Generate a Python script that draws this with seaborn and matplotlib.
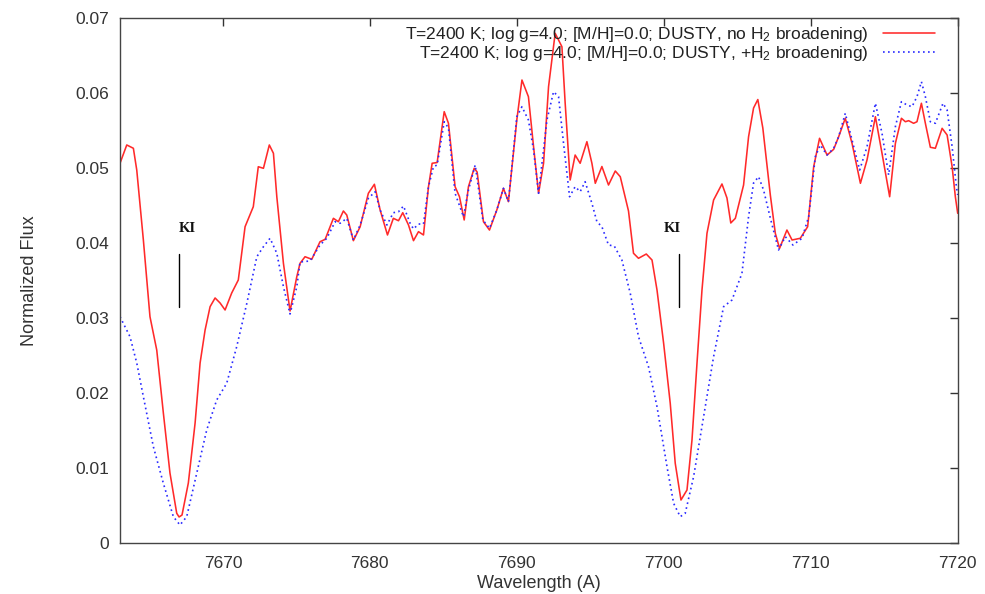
import matplotlib
matplotlib.use("Agg")
import matplotlib.pyplot as plt
import seaborn as sns
import numpy as np
import pandas as pd

# ---------------- data ----------------
wl_red = [7663.00, 7663.46, 7663.91, 7664.14, 7664.59, 7665.04, 7665.50, 7665.95, 7666.40, 7666.86,
          7667.02, 7667.22, 7667.65, 7668.11, 7668.45, 7668.79, 7669.13, 7669.47, 7669.81, 7670.15,
          7670.60, 7671.05, 7671.51, 7672.07, 7672.41, 7672.76, 7673.16, 7673.44, 7673.67, 7674.12,
          7674.57, 7675.03, 7675.25, 7675.59, 7676.05, 7676.61, 7676.96, 7677.52, 7677.86, 7678.20,
          7678.43, 7678.88, 7679.34, 7679.90, 7680.31, 7680.70, 7681.20, 7681.60, 7681.95, 7682.24,
          7682.63, 7682.97, 7683.31, 7683.65, 7683.99, 7684.24, 7684.58, 7685.06, 7685.35, 7685.80,
          7686.10, 7686.42, 7686.71, 7687.10, 7687.30, 7687.73, 7688.14, 7688.64, 7689.09, 7689.43,
          7690.00, 7690.35, 7690.79, 7691.14, 7691.48, 7691.82, 7692.16, 7692.61, 7693.07, 7693.29,
          7693.63, 7693.97, 7694.31, 7694.77, 7695.11, 7695.34, 7695.79, 7696.24, 7696.70, 7697.04,
          7697.38, 7697.60, 7697.94, 7698.28, 7698.81, 7699.20, 7699.54, 7699.99, 7700.44, 7700.78,
          7701.17, 7701.58, 7701.92, 7702.26, 7702.60, 7702.94, 7703.39, 7703.96, 7704.30, 7704.56,
          7704.87, 7705.43, 7705.77, 7706.11, 7706.40, 7706.74, 7707.25, 7707.59, 7707.88, 7708.38,
          7708.73, 7709.29, 7709.79, 7710.20, 7710.60, 7711.11, 7711.56, 7711.90, 7712.35, 7712.81,
          7713.38, 7713.83, 7714.40, 7714.85, 7715.37, 7715.76, 7716.17, 7716.44, 7716.66, 7717.00,
          7717.23, 7717.53, 7717.80, 7718.14, 7718.48, 7718.94, 7719.28, 7719.62, 7719.84, 7720.00]
flux_red = [0.05067, 0.05311, 0.05267, 0.04977, 0.04044, 0.03021, 0.02577, 0.01737, 0.00937, 0.00400,
            0.00351, 0.00377, 0.00804, 0.01604, 0.02404, 0.02844, 0.03155, 0.03271, 0.03204, 0.03111,
            0.03337, 0.03511, 0.04221, 0.04488, 0.05021, 0.05000, 0.05311, 0.05200, 0.04621, 0.03733,
            0.03097, 0.03555, 0.03733, 0.03821, 0.03787, 0.04021, 0.04053, 0.04333, 0.04288, 0.04431,
            0.04377, 0.04035, 0.04221, 0.04667, 0.04787, 0.04444, 0.04111, 0.04333, 0.04301, 0.04408,
            0.04244, 0.04035, 0.04155, 0.04111, 0.04755, 0.05067, 0.05077, 0.05755, 0.05600, 0.04755,
            0.04621, 0.04311, 0.04755, 0.05000, 0.04951, 0.04288, 0.04177, 0.04444, 0.04733, 0.04555,
            0.05644, 0.06177, 0.05955, 0.05288, 0.04667, 0.05067, 0.06088, 0.06800, 0.06621, 0.05871,
            0.04844, 0.05177, 0.05067, 0.05355, 0.05067, 0.04800, 0.05024, 0.04777, 0.04964, 0.04888,
            0.04611, 0.04431, 0.03867, 0.03800, 0.03857, 0.03777, 0.03377, 0.02667, 0.01867, 0.01067,
            0.00577, 0.00711, 0.01377, 0.02400, 0.03377, 0.04133, 0.04577, 0.04791, 0.04604, 0.04271,
            0.04333, 0.04777, 0.05421, 0.05804, 0.05917, 0.05537, 0.04644, 0.04133, 0.03933, 0.04177,
            0.04044, 0.04067, 0.04221, 0.05021, 0.05400, 0.05177, 0.05253, 0.05421, 0.05667, 0.05333,
            0.04800, 0.05111, 0.05688, 0.05200, 0.04621, 0.05333, 0.05667, 0.05621, 0.05635, 0.05600,
            0.05621, 0.05867, 0.05600, 0.05280, 0.05267, 0.05533, 0.05444, 0.05021, 0.04621, 0.04400]

wl_blue = [7663.00, 7663.68, 7664.14, 7664.59, 7665.27, 7665.95, 7666.63, 7667.08, 7667.54, 7668.22,
           7668.90, 7669.58, 7670.26, 7670.94, 7671.63, 7672.31, 7672.76, 7673.21, 7673.67, 7674.12,
           7674.57, 7675.03, 7675.25, 7675.93, 7676.61, 7677.07, 7677.64, 7677.98, 7678.43, 7678.88,
           7679.34, 7679.90, 7680.36, 7680.70, 7681.16, 7681.60, 7681.95, 7682.29, 7682.74, 7682.97,
           7683.31, 7683.65, 7683.99, 7684.33, 7684.58, 7685.06, 7685.35, 7685.80, 7686.37, 7686.71,
           7687.17, 7687.69, 7688.14, 7688.64, 7689.09, 7689.43, 7690.00, 7690.35, 7690.79, 7691.14,
           7691.48, 7692.05, 7692.50, 7692.84, 7693.18, 7693.59, 7693.97, 7694.31, 7694.65, 7695.11,
           7695.45, 7695.79, 7696.24, 7696.63, 7697.15, 7697.72, 7698.28, 7698.96, 7699.54, 7700.22,
           7700.67, 7701.12, 7701.46, 7702.03, 7702.71, 7703.39, 7704.07, 7704.64, 7705.32, 7705.77,
           7706.11, 7706.45, 7706.79, 7707.25, 7707.81, 7708.27, 7708.79, 7709.41, 7709.86, 7710.31,
           7710.65, 7711.11, 7711.56, 7711.90, 7712.35, 7712.81, 7713.33, 7713.83, 7714.40, 7714.85,
           7715.30, 7715.76, 7716.17, 7716.55, 7716.89, 7717.23, 7717.53, 7717.80, 7718.14, 7718.48,
           7719.00, 7719.28, 7719.62, 7719.91, 7720.00]
flux_blue = [0.03021, 0.02755, 0.02404, 0.01955, 0.01288, 0.00800, 0.00355, 0.00244, 0.00355, 0.00933,
             0.01511, 0.01911, 0.02133, 0.02621, 0.03200, 0.03821, 0.03955, 0.04067, 0.03867, 0.03421,
             0.03057, 0.03421, 0.03751, 0.03764, 0.03977, 0.04067, 0.04288, 0.04267, 0.04333, 0.04044,
             0.04244, 0.04600, 0.04688, 0.04444, 0.04244, 0.04408, 0.04421, 0.04497, 0.04267, 0.04191,
             0.04257, 0.04257, 0.04755, 0.05021, 0.05044, 0.05621, 0.05537, 0.04667, 0.04355, 0.04711,
             0.05044, 0.04311, 0.04200, 0.04444, 0.04733, 0.04555, 0.05688, 0.05821, 0.05644, 0.05244,
             0.04667, 0.05644, 0.06021, 0.05955, 0.05333, 0.04621, 0.04755, 0.04688, 0.04821, 0.04533,
             0.04288, 0.04221, 0.03977, 0.03964, 0.03777, 0.03333, 0.02755, 0.02355, 0.01821, 0.01021,
             0.00533, 0.00355, 0.00400, 0.00888, 0.01688, 0.02488, 0.03155, 0.03244, 0.03600, 0.04355,
             0.04804, 0.04888, 0.04711, 0.04337, 0.03911, 0.04088, 0.03977, 0.04067, 0.04355, 0.05155,
             0.05311, 0.05177, 0.05267, 0.05421, 0.05733, 0.05377, 0.04977, 0.05288, 0.05867, 0.05467,
             0.04911, 0.05555, 0.05888, 0.05844, 0.05821, 0.05955, 0.06155, 0.05955, 0.05621, 0.05600,
             0.05867, 0.05777, 0.05288, 0.04755, 0.04644]

label_red = "T=2400 K; log g=4.0; [M/H]=0.0; DUSTY, no H$_2$ broadening)"
label_blue = "T=2400 K; log g=4.0; [M/H]=0.0; DUSTY, +H$_2$ broadening)"

x_ticks = [7670, 7680, 7690, 7700, 7710, 7720]
y_ticks = [0, 0.01, 0.02, 0.03, 0.04, 0.05, 0.06, 0.07]
y_ticklabels = ["0", "0.01", "0.02", "0.03", "0.04", "0.05", "0.06", "0.07"]

ki_lines = [7667.02, 7701.05]
ki_text_x = [7667.6, 7700.6]

# ---------------- style ----------------
sns.set_theme(style="white")
plt.rcParams["font.family"] = ["Liberation Sans", "DejaVu Sans"]
plt.rcParams["mathtext.fontset"] = "custom"
plt.rcParams["mathtext.rm"] = "Liberation Sans"
plt.rcParams["mathtext.it"] = "Liberation Sans"
plt.rcParams["mathtext.default"] = "regular"

fig = plt.figure(figsize=(9.85, 5.94), dpi=100)
ax = fig.add_axes([120 / 985, 1 - 543.3 / 594, (957.7 - 120) / 985, (543.3 - 18.3) / 594])

df_red = pd.DataFrame({"wl": wl_red, "flux": flux_red})
df_blue = pd.DataFrame({"wl": wl_blue, "flux": flux_blue})

sns.lineplot(data=df_red, x="wl", y="flux", ax=ax, color="#ff2a2a", lw=1.15,
             estimator=None, sort=False, label=label_red, solid_joinstyle="round")
sns.lineplot(data=df_blue, x="wl", y="flux", ax=ax, color="#2a2aff", lw=1.2,
             linestyle=(0, (1, 2)), estimator=None, sort=False, label=label_blue)

ax.set_xlim(7663, 7720)
ax.set_ylim(0, 0.07)
ax.set_xticks(x_ticks)
ax.set_xticklabels([str(t) for t in x_ticks])
ax.set_yticks(y_ticks)
ax.set_yticklabels(y_ticklabels)
ax.tick_params(direction="in", length=6, width=1, top=True, right=True,
               labelsize=12.5, colors="#333333", pad=8)
ax.tick_params(axis="x", pad=9)
for s in ax.spines.values():
    s.set_color("#444444")
    s.set_linewidth(1.0)
ax.grid(False)

# K I markers
for xl in ki_lines:
    ax.plot([xl, xl], [0.0315, 0.0386], color="black", lw=1.0)
for xt in ki_text_x:
    ax.text(xt, 0.0420, "KI", family=["Liberation Serif", "DejaVu Serif"], fontweight="bold",
            fontsize=10.5, ha="center", va="center", color="#111111")

ax.set_xlabel("Wavelength (A)", fontsize=13, color="#333333")
ax.set_ylabel("Normalized Flux", fontsize=13, color="#333333")
ax.xaxis.set_label_coords(0.5, (543.3 - 584) / 525)
ax.xaxis.label.set_va("center")
ax.yaxis.set_label_coords((30 - 120) / 837.7, 0.5)
ax.yaxis.label.set_va("center")

leg = ax.legend(loc="upper right", bbox_to_anchor=((935 - 120) / 837.7, 0.988),
                markerfirst=False, frameon=False, handlelength=3.0, handletextpad=0.8,
                labelspacing=0.0, fontsize=12.5, borderpad=0, borderaxespad=0)
for t in leg.get_texts():
    t.set_color("#222222")

fig.savefig("out.png", dpi=100)
